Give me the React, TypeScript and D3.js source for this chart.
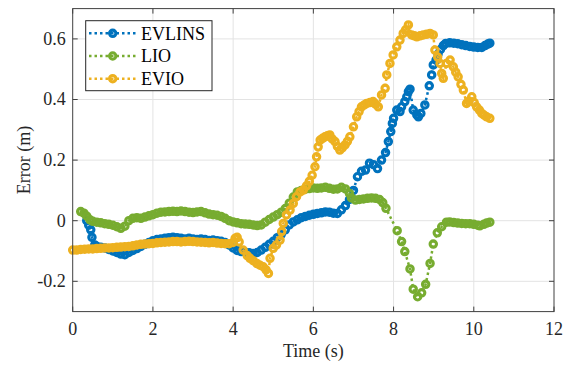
import { useEffect } from 'react';
import * as d3 from 'd3';

type Pt = [number, number];

const xTicks = [0, 2, 4, 6, 8, 10, 12];
const yTicks = [-0.2, 0, 0.2, 0.4, 0.6];
const yTickLabels = ['-0.2', '0', '0.2', '0.4', '0.6'];
const seriesNames = ['EVLINS', 'LIO', 'EVIO'];
const seriesColors = ['#0072BD', '#77AC30', '#EDB120'];

const evlins: Pt[] = [
  [0.35, 0.0], [0.4, -0.015], [0.45, -0.03], [0.48, -0.055], [0.55, -0.08], [0.6, -0.085],
  [0.7, -0.088], [0.8, -0.09], [0.9, -0.095], [1.0, -0.1], [1.1, -0.105], [1.2, -0.11],
  [1.3, -0.112], [1.4, -0.105], [1.5, -0.098], [1.6, -0.092], [1.7, -0.085], [1.8, -0.078],
  [1.9, -0.072], [2.0, -0.066], [2.1, -0.062], [2.2, -0.06], [2.3, -0.058], [2.4, -0.056],
  [2.5, -0.055], [2.6, -0.056], [2.7, -0.058], [2.8, -0.06], [2.9, -0.058], [3.0, -0.06],
  [3.1, -0.062], [3.2, -0.06], [3.3, -0.062], [3.4, -0.065], [3.5, -0.064], [3.6, -0.066],
  [3.7, -0.068], [3.8, -0.072], [3.9, -0.08], [4.0, -0.09], [4.1, -0.098], [4.2, -0.102],
  [4.3, -0.104], [4.4, -0.106], [4.5, -0.108], [4.6, -0.105], [4.7, -0.097], [4.8, -0.088],
  [4.9, -0.078], [5.0, -0.068], [5.1, -0.056], [5.2, -0.045], [5.3, -0.03], [5.4, -0.014],
  [5.5, -0.004], [5.6, 0.003], [5.7, 0.01], [5.8, 0.014], [5.9, 0.018], [6.0, 0.021],
  [6.1, 0.024], [6.2, 0.026], [6.3, 0.029], [6.4, 0.028], [6.5, 0.025], [6.6, 0.024],
  [6.7, 0.036], [6.8, 0.05], [6.9, 0.07], [7.0, 0.1], [7.1, 0.145], [7.2, 0.163],
  [7.3, 0.167], [7.4, 0.19], [7.5, 0.185], [7.6, 0.172], [7.7, 0.2], [7.8, 0.225],
  [7.87, 0.261], [7.93, 0.294], [7.97, 0.321], [8.0, 0.338], [8.08, 0.365], [8.16, 0.36],
  [8.2, 0.376], [8.28, 0.393], [8.33, 0.409], [8.37, 0.426], [8.41, 0.434], [8.49, 0.365],
  [8.58, 0.349], [8.62, 0.343], [8.68, 0.354], [8.78, 0.382], [8.89, 0.445], [8.95, 0.481],
  [8.99, 0.514], [9.06, 0.53], [9.11, 0.55], [9.17, 0.565], [9.24, 0.578], [9.3, 0.585],
  [9.4, 0.587], [9.5, 0.586], [9.6, 0.584], [9.7, 0.581], [9.8, 0.578], [9.9, 0.575],
  [10.0, 0.573], [10.1, 0.572], [10.2, 0.572], [10.28, 0.578], [10.35, 0.583], [10.4, 0.586],
];

const lio: Pt[] = [
  [0.2, 0.03], [0.28, 0.025], [0.35, 0.015], [0.43, 0.003], [0.5, -0.002], [0.6, -0.005],
  [0.7, -0.007], [0.8, -0.01], [0.9, -0.012], [1.0, -0.015], [1.1, -0.02], [1.2, -0.025],
  [1.3, -0.018], [1.4, 0.0], [1.5, 0.008], [1.6, 0.01], [1.7, 0.008], [1.8, 0.012],
  [1.9, 0.016], [2.0, 0.02], [2.1, 0.025], [2.2, 0.028], [2.3, 0.029], [2.4, 0.03],
  [2.5, 0.031], [2.6, 0.03], [2.7, 0.032], [2.8, 0.03], [2.9, 0.028], [3.0, 0.027],
  [3.1, 0.029], [3.2, 0.03], [3.3, 0.026], [3.4, 0.022], [3.5, 0.02], [3.6, 0.018],
  [3.7, 0.014], [3.8, 0.008], [3.9, 0.0], [4.0, -0.004], [4.1, -0.007], [4.2, -0.01],
  [4.3, -0.011], [4.4, -0.012], [4.5, -0.014], [4.6, -0.016], [4.7, -0.014], [4.8, -0.005],
  [4.9, 0.004], [5.0, 0.012], [5.1, 0.02], [5.2, 0.028], [5.3, 0.04], [5.4, 0.058],
  [5.5, 0.078], [5.6, 0.095], [5.7, 0.1], [5.8, 0.104], [5.9, 0.106], [6.0, 0.108],
  [6.1, 0.107], [6.2, 0.108], [6.3, 0.11], [6.4, 0.107], [6.5, 0.104], [6.6, 0.105],
  [6.7, 0.11], [6.8, 0.105], [6.9, 0.09], [6.95, 0.075], [7.05, 0.068], [7.15, 0.07],
  [7.25, 0.072], [7.35, 0.074], [7.45, 0.075], [7.55, 0.074], [7.65, 0.07], [7.73, 0.06],
  [7.81, 0.041], [8.09, -0.033], [8.2, -0.069], [8.28, -0.102], [8.41, -0.159], [8.49, -0.226],
  [8.6, -0.251], [8.7, -0.238], [8.8, -0.21], [8.91, -0.141], [8.99, -0.077], [9.09, -0.04],
  [9.2, -0.02], [9.32, -0.005], [9.4, -0.004], [9.5, -0.006], [9.6, -0.008], [9.7, -0.009],
  [9.8, -0.01], [9.9, -0.01], [10.0, -0.012], [10.1, -0.015], [10.15, -0.017], [10.25, -0.012],
  [10.32, -0.008], [10.4, -0.005],
];

const evio: Pt[] = [
  [0.0, -0.097], [0.1, -0.097], [0.2, -0.095], [0.3, -0.094], [0.4, -0.093], [0.5, -0.093],
  [0.6, -0.092], [0.7, -0.091], [0.8, -0.09], [0.9, -0.09], [1.0, -0.089], [1.1, -0.088],
  [1.2, -0.087], [1.3, -0.086], [1.4, -0.085], [1.5, -0.083], [1.6, -0.08], [1.7, -0.078],
  [1.8, -0.077], [1.9, -0.076], [2.0, -0.075], [2.1, -0.073], [2.2, -0.072], [2.3, -0.071],
  [2.4, -0.07], [2.5, -0.069], [2.6, -0.069], [2.7, -0.07], [2.8, -0.069], [2.9, -0.068],
  [3.0, -0.069], [3.1, -0.07], [3.2, -0.071], [3.3, -0.072], [3.4, -0.073], [3.5, -0.072],
  [3.6, -0.074], [3.7, -0.075], [3.8, -0.076], [3.9, -0.076], [4.0, -0.072], [4.05, -0.058],
  [4.1, -0.055], [4.15, -0.07], [4.25, -0.097], [4.35, -0.115], [4.42, -0.124], [4.5, -0.132],
  [4.59, -0.141], [4.67, -0.147], [4.75, -0.152], [4.82, -0.162], [4.88, -0.174], [4.92, -0.124],
  [5.0, -0.091], [5.08, -0.08], [5.17, -0.064], [5.21, -0.036], [5.25, -0.009], [5.33, 0.019],
  [5.42, 0.035], [5.5, 0.057], [5.58, 0.079], [5.67, 0.095], [5.75, 0.101], [5.83, 0.115],
  [5.9, 0.13], [5.97, 0.15], [6.04, 0.178], [6.08, 0.211], [6.12, 0.244], [6.17, 0.266],
  [6.23, 0.272], [6.29, 0.277], [6.35, 0.28], [6.41, 0.283], [6.47, 0.27], [6.54, 0.261],
  [6.6, 0.245], [6.66, 0.233], [6.72, 0.24], [6.79, 0.25], [6.85, 0.262], [6.91, 0.277],
  [7.0, 0.31], [7.08, 0.343], [7.14, 0.36], [7.2, 0.376], [7.27, 0.382], [7.33, 0.387],
  [7.41, 0.39], [7.49, 0.393], [7.55, 0.385], [7.62, 0.376], [7.7, 0.415], [7.79, 0.437],
  [7.83, 0.481], [7.91, 0.519], [7.99, 0.547], [8.08, 0.574], [8.16, 0.596], [8.24, 0.618],
  [8.3, 0.63], [8.37, 0.646], [8.45, 0.613], [8.52, 0.61], [8.58, 0.607], [8.66, 0.61],
  [8.74, 0.613], [8.82, 0.615], [8.91, 0.618], [8.99, 0.613], [9.03, 0.563], [9.1, 0.54],
  [9.16, 0.519], [9.2, 0.486], [9.24, 0.47], [9.32, 0.519], [9.41, 0.53], [9.49, 0.508],
  [9.55, 0.49], [9.61, 0.475], [9.68, 0.45], [9.74, 0.431], [9.82, 0.387], [9.88, 0.395],
  [9.95, 0.409], [10.01, 0.39], [10.07, 0.376], [10.14, 0.365], [10.2, 0.354], [10.26, 0.348],
  [10.32, 0.343], [10.4, 0.338],
];

const seriesData = [evlins, lio, evio];

const W = 568;
const H = 365;
const left = 72.7;
const right = 554;
const top = 8.6;
const bottom = 311.6;
const font = '"Liberation Serif", "Times New Roman", serif';

export default function App() {
  useEffect(() => {
    document.body.style.margin = '0';
  }, []);

  const x = d3.scaleLinear().domain([0, 12]).range([left, right]);
  const y = d3.scaleLinear().domain([-0.3, 0.7]).range([bottom, top]);
  const line = d3.line<Pt>().x(d => x(d[0])).y(d => y(d[1]));

  const axisColor = '#404040';
  const gridColor = '#e3e3e3';
  const tickLen = 5;
  const mr = 3.2;
  const msw = 3.1;

  return (
    <svg width={W} height={H} style={{ display: 'block', background: '#fff' }} fontFamily={font}>
      {/* grid */}
      {xTicks.slice(1, -1).map(t => (
        <line key={'gx' + t} x1={x(t)} x2={x(t)} y1={top} y2={bottom} stroke={gridColor} strokeWidth={1} />
      ))}
      {yTicks.map(t => (
        <line key={'gy' + t} x1={left} x2={right} y1={y(t)} y2={y(t)} stroke={gridColor} strokeWidth={1} />
      ))}

      {/* series */}
      {seriesData.map((data, i) => (
        <g key={seriesNames[i]}>
          <path d={line(data) ?? ''} fill="none" stroke={seriesColors[i]} strokeWidth={2.5}
            strokeDasharray="2.5 3" />
          {data.map((d, j) => (
            <circle key={j} cx={x(d[0])} cy={y(d[1])} r={mr} fill="none"
              stroke={seriesColors[i]} strokeWidth={msw} />
          ))}
        </g>
      ))}

      {/* axes box and ticks */}
      <rect x={left} y={top} width={right - left} height={bottom - top} fill="none" stroke={axisColor} strokeWidth={1} />
      {xTicks.map(t => (
        <g key={'tx' + t}>
          <line x1={x(t)} x2={x(t)} y1={bottom} y2={bottom - tickLen} stroke={axisColor} />
          <line x1={x(t)} x2={x(t)} y1={top} y2={top + tickLen} stroke={axisColor} />
          <text x={x(t)} y={bottom + 23} textAnchor="middle" fontSize={18} fill="#262626">{t}</text>
        </g>
      ))}
      {yTicks.map((t, i) => (
        <g key={'ty' + t}>
          <line x1={left} x2={left + tickLen} y1={y(t)} y2={y(t)} stroke={axisColor} />
          <line x1={right} x2={right - tickLen} y1={y(t)} y2={y(t)} stroke={axisColor} />
          <text x={left - 7} y={y(t)} dy="0.33em" textAnchor="end" fontSize={18} fill="#262626">{yTickLabels[i]}</text>
        </g>
      ))}

      {/* axis labels */}
      <text x={(left + right) / 2} y={357} textAnchor="middle" fontSize={18} fill="#262626">Time (s)</text>
      <text transform={`translate(30,${(top + bottom) / 2}) rotate(-90)`} textAnchor="middle" fontSize={18} fill="#262626">Error (m)</text>

      {/* legend */}
      <rect x={85.7} y={20.7} width={126.3} height={70} fill="#fff" stroke="#262626" strokeWidth={1} />
      {seriesNames.map((name, i) => {
        const ly = 33.3 + i * 22.7;
        return (
          <g key={'lg' + name}>
            <line x1={89} x2={137} y1={ly} y2={ly} stroke={seriesColors[i]} strokeWidth={2.5} strokeDasharray="2.5 3" />
            <circle cx={112.7} cy={ly} r={mr} fill="none" stroke={seriesColors[i]} strokeWidth={msw} />
            <text x={141} y={ly} dy="0.35em" fontSize={18} fill="#000">{name}</text>
          </g>
        );
      })}
    </svg>
  );
}
